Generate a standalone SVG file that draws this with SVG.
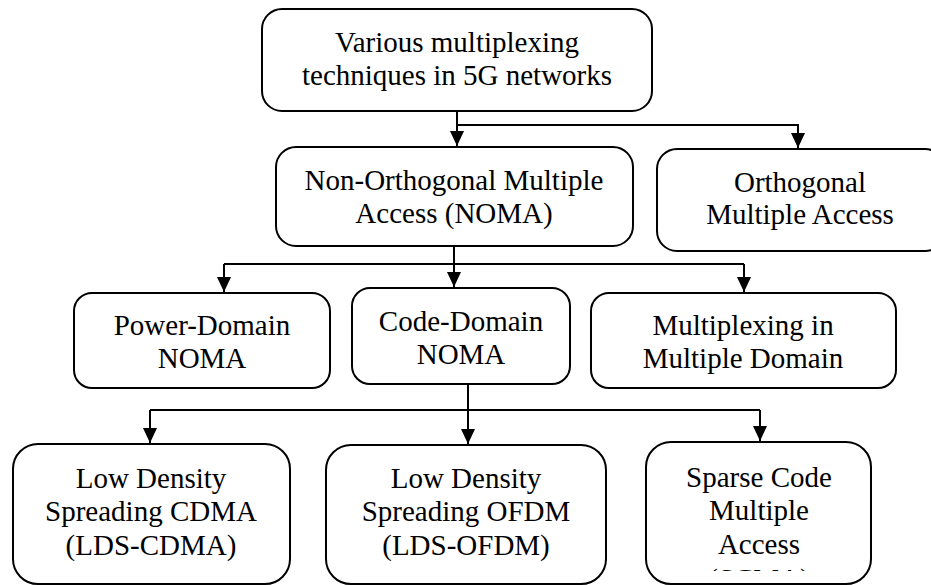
<svg xmlns="http://www.w3.org/2000/svg" width="931" height="585" viewBox="0 0 931 585">
  <style>
    .box { fill: #ffffff; stroke: #000000; stroke-width: 2; }
    .lbl { font-family: "Liberation Serif", Tinos, "Times New Roman", "Nimbus Roman", "DejaVu Serif", serif; font-size: 29px; fill: #000000; text-anchor: middle; }
    .wire { fill: none; stroke: #000000; stroke-width: 2; }
  </style>
  <defs>
    <marker id="arrow" markerUnits="userSpaceOnUse" markerWidth="14" markerHeight="15" viewBox="0 0 14 15" refX="7" refY="15" orient="0">
      <path d="M0,0 L14,0 L7,15 Z" fill="#000000"/>
    </marker>
    <clipPath id="scmaClip">
      <rect x="646" y="442" width="226" height="129"/>
    </clipPath>
  </defs>

  <rect width="931" height="585" fill="#ffffff"/>

  <!-- connectors -->
  <g id="connectors">
    <path class="wire" d="M457,111 V146" marker-end="url(#arrow)"/>
    <path class="wire" d="M457,125 H798 V148" marker-end="url(#arrow)"/>
    <path class="wire" d="M454,246 V287" marker-end="url(#arrow)"/>
    <path class="wire" d="M224,264 H744"/>
    <path class="wire" d="M224,264 V292" marker-end="url(#arrow)"/>
    <path class="wire" d="M744,264 V292" marker-end="url(#arrow)"/>
    <path class="wire" d="M468,384 V444" marker-end="url(#arrow)"/>
    <path class="wire" d="M150,410 H760"/>
    <path class="wire" d="M150,410 V443" marker-end="url(#arrow)"/>
    <path class="wire" d="M760,410 V441" marker-end="url(#arrow)"/>
  </g>

  <!-- root -->
  <g id="root">
    <rect class="box" x="262" y="9" width="390" height="102" rx="20"/>
    <text class="lbl" x="457" y="52">Various multiplexing</text>
    <text class="lbl" x="457" y="85">techniques in 5G networks</text>
  </g>

  <!-- second level -->
  <g id="noma">
    <rect class="box" x="276" y="147" width="357" height="99" rx="20"/>
    <text class="lbl" x="454" y="190">Non-Orthogonal Multiple</text>
    <text class="lbl" x="454" y="223">Access (NOMA)</text>
  </g>
  <g id="oma">
    <rect class="box" x="657" y="149" width="288" height="102" rx="20"/>
    <text class="lbl" x="800" y="192">Orthogonal</text>
    <text class="lbl" x="800" y="224">Multiple Access</text>
  </g>

  <!-- third level -->
  <g id="power-domain">
    <rect class="box" x="74" y="293" width="256" height="95" rx="18"/>
    <text class="lbl" x="202" y="335">Power-Domain</text>
    <text class="lbl" x="202" y="368">NOMA</text>
  </g>
  <g id="code-domain">
    <rect class="box" x="352" y="288" width="218" height="96" rx="18"/>
    <text class="lbl" x="461" y="331">Code-Domain</text>
    <text class="lbl" x="461" y="364">NOMA</text>
  </g>
  <g id="multi-domain">
    <rect class="box" x="591" y="293" width="305" height="95" rx="18"/>
    <text class="lbl" x="743" y="335">Multiplexing in</text>
    <text class="lbl" x="743" y="368">Multiple Domain</text>
  </g>

  <!-- fourth level -->
  <g id="lds-cdma">
    <rect class="box" x="13" y="444" width="277" height="140" rx="25"/>
    <text class="lbl" x="151" y="488">Low Density</text>
    <text class="lbl" x="151" y="521">Spreading CDMA</text>
    <text class="lbl" x="151" y="555">(LDS-CDMA)</text>
  </g>
  <g id="lds-ofdm">
    <rect class="box" x="326" y="445" width="280" height="139" rx="25"/>
    <text class="lbl" x="466" y="488">Low Density</text>
    <text class="lbl" x="466" y="521">Spreading OFDM</text>
    <text class="lbl" x="466" y="555">(LDS-OFDM)</text>
  </g>
  <g id="scma">
    <rect class="box" x="646" y="442" width="225" height="142" rx="25"/>
    <text class="lbl" x="759" y="487">Sparse Code</text>
    <text class="lbl" x="759" y="520">Multiple</text>
    <text class="lbl" x="759" y="554">Access</text>
    <text class="lbl" x="759" y="589" clip-path="url(#scmaClip)">(SCMA)</text>
  </g>
</svg>
